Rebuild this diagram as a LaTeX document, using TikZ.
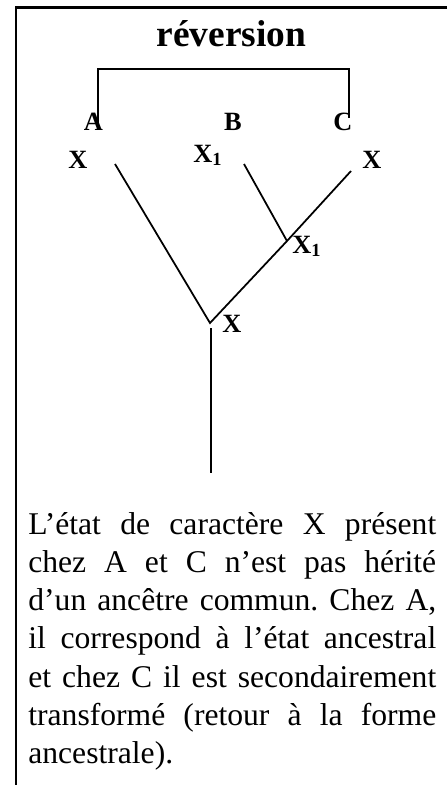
\documentclass[tikz,border=0pt]{standalone}
\usepackage{fontspec}
\setmainfont{Liberation Serif}
\usetikzlibrary{calc,positioning}
\definecolor{TreeInk}{HTML}{000000}
\tikzset{
  every node/.style={text=TreeInk},
  frame/.style={draw=TreeInk, line width=1.2pt},
  branch/.style={draw=TreeInk, line width=1pt},
  taxon/.style={font=\fontsize{15}{18}\selectfont\bfseries, inner sep=0pt, anchor=base},
  state/.style={font=\fontsize{15}{18}\selectfont\bfseries, inner sep=0pt, anchor=base west},
}

\begin{document}
\begin{tikzpicture}[x=0.02cm,y=-0.02cm]
  \useasboundingbox (0,0) rectangle (447,785);
  % Frame: top and left edges only
  \draw[frame] (447,7.5) -- (16,7.5) -- (16,785);
  \node[font=\fontsize{21.3}{25}\selectfont\bfseries, inner sep=0pt, anchor=base] (title) at (231.5,46) {réversion};
  % Taxa and their states
  \node[taxon] (taxA) at (93.5,130) {A};
  \node[taxon] (taxB) at (233,130) {B};
  \node[taxon] (taxC) at (343,130) {C};
  \node[state, anchor=base] (stA) at (78,168) {X};
  \node[state] (stB) at (193,162) {X\textsubscript{1}};
  \node[state, anchor=base] (stC) at (372,168) {X};
  % Bracket joining A and C
  \coordinate (brA) at (98,123);
  \coordinate (brC) at (349,118);
  \draw[branch] (brA) |- ($(brC)+(0,-49)$) -- (brC);
  % Tree
  \coordinate (root) at (210,323);
  \coordinate (fork) at (287,241);
  \coordinate (endA) at (115,164);
  \coordinate (endB) at (244,164);
  \coordinate (endC) at (351,171);
  \coordinate (trunkTop) at (211,328);
  \coordinate (trunkBot) at (211,473);
  \draw[branch] (endA) -- (root) -- (fork) -- (endC);
  \draw[branch] (endB) -- (fork);
  \draw[branch] (trunkTop) -- (trunkBot);
  \node[state] (stFork) at (292,253) {X\textsubscript{1}};
  \node[state] (stRoot) at (222,332) {X};
  % Caption
  \node[anchor=base west, inner sep=0pt, text width=8.16cm, align=justify,
        font=\fontsize{18}{21.8}\selectfont] (caption) at (28,534)
    {\frenchspacing\tolerance=9999 L’état de caractère X présent\linebreak
     chez A et C n’est pas hérité\linebreak
     d’un ancêtre commun. Chez A,\linebreak
     il correspond à l’état ancestral\linebreak
     et chez C il est secondairement\linebreak
     transformé (retour à la forme\linebreak
     ancestrale).};
\end{tikzpicture}
\end{document}
